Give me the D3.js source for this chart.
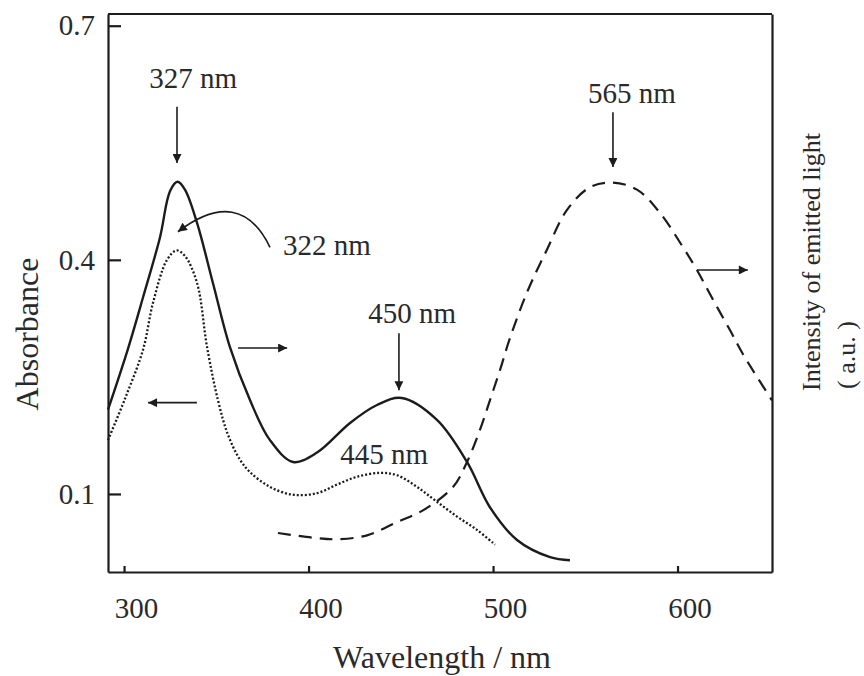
<!DOCTYPE html>
<html>
<head>
<meta charset="utf-8">
<script src="https://cdn.jsdelivr.net/npm/d3@7"></script>
<style>
  body { margin: 0; background: #fff; }
  text { font-family: "Liberation Serif", "DejaVu Serif", serif; fill: #2a2a2a; }
</style>
</head>
<body>
<div id="chart"></div>
<script>
// solid absorption spectrum
const solidNm  = [291.3, 302, 310.3, 319.5, 324.9, 329, 333, 339.6, 348.2, 357.4, 368.3, 379.1, 391.6, 404.6, 422.5, 437.1, 450.5, 469.6, 485.9, 498.3, 513, 530.9, 541.7];
const solidAbs = [0.208, 0.285, 0.352, 0.429, 0.488, 0.500, 0.490, 0.447, 0.370, 0.288, 0.220, 0.169, 0.141, 0.153, 0.191, 0.214, 0.223, 0.195, 0.141, 0.083, 0.041, 0.019, 0.015];

// dotted absorption spectrum
const dotNm  = [291.3, 300.5, 310.3, 315.7, 323.3, 328.5, 333, 339.6, 345, 350.9, 356.3, 362.8, 368.3, 379.1, 391.6, 404.6, 415.4, 426.3, 438.7, 448, 458.8, 469.6, 480.5, 491.3, 501.1];
const dotAbs = [0.169, 0.222, 0.285, 0.345, 0.400, 0.412, 0.405, 0.370, 0.288, 0.220, 0.176, 0.144, 0.128, 0.109, 0.099, 0.101, 0.112, 0.122, 0.127, 0.124, 0.109, 0.090, 0.071, 0.054, 0.035];

// dashed emission spectrum (a.u.)
const emNm  = [383.4, 402.4, 415.4, 431.7, 448, 462, 478.3, 485.9, 492.9, 498.3, 503.8, 509.2, 518.9, 529.2, 540.1, 552.5, 564.5, 578, 590.5, 603, 610.5, 619.2, 628.4, 635.5, 651.2];
const emInt = [0.050, 0.044, 0.042, 0.047, 0.064, 0.079, 0.109, 0.141, 0.182, 0.220, 0.259, 0.300, 0.361, 0.413, 0.464, 0.493, 0.499, 0.490, 0.460, 0.416, 0.387, 0.349, 0.310, 0.279, 0.220];

const xTicks = [300, 400, 500, 600];
const yTicks = [0.1, 0.4, 0.7];

// peak labels: text, text position, arrow start/end (nm, value)
const labelText = ['327 nm', '450 nm', '565 nm', '445 nm', '322 nm'];
const labelNm   = [337.4, 456.1, 575.3, 441.0, 410.0];
const labelVal  = [0.633, 0.332, 0.614, 0.152, 0.419];
const dropNm    = [328.7, 449.0, 565.0];
const dropFrom  = [0.596, 0.306, 0.589];
const dropTo    = [0.524, 0.233, 0.519];

// side arrows telling which axis a curve belongs to
const sideFrom = [[361.8, 0.287], [339.5, 0.217], [610.5, 0.387]];
const sideTo   = [[388.4, 0.287], [313.0, 0.217], [638.1, 0.387]];

// curved pointer for 322 nm
const curlPts = [[379.1, 0.416], [362.8, 0.496], [329.2, 0.436]];

const W = 864, H = 676;
const margin = { top: 14, right: 92, bottom: 104, left: 108 };
const width = W - margin.left - margin.right;
const height = H - margin.top - margin.bottom;
const ink = '#1c1c1c';

const svg = d3.select('#chart')
    .append('svg')
    .attr('width', W)
    .attr('height', H);

const defs = svg.append('defs');
defs.append('marker')
    .attr('id', 'head')
    .attr('viewBox', '0 0 10 10')
    .attr('refX', 10)
    .attr('refY', 5)
    .attr('markerWidth', 10)
    .attr('markerHeight', 9)
    .attr('markerUnits', 'userSpaceOnUse')
    .attr('orient', 'auto')
    .append('path')
    .attr('d', 'M0,0 L10,5 L0,10 Z')
    .attr('fill', ink);

const g = svg.append('g')
    .attr('transform', `translate(${margin.left}, ${margin.top})`);

const x = d3.scaleLinear().domain([291.3, 651.2]).range([0, width]);
const y = d3.scaleLinear().domain([0, 0.715]).range([height, 0]);
const yEm = d3.scaleLinear().domain([0, 0.715]).range([height, 0]);

// axes
g.append('g')
    .attr('transform', `translate(0, ${height})`)
    .style('font-size', '29px')
    .call(d3.axisBottom(x).tickValues(xTicks).tickSizeInner(-6).tickSizeOuter(0).tickPadding(25).tickFormat(d3.format('d')))
    .call(a => a.selectAll('text').attr('dx', 12));

g.append('g')
    .style('font-size', '29px')
    .call(d3.axisLeft(y).tickValues(yTicks).tickSizeInner(-13).tickSizeOuter(0).tickPadding(13).tickFormat(d3.format('.1f')));

g.append('g')
    .attr('transform', `translate(${width}, 0)`)
    .call(d3.axisRight(yEm).tickValues([]).tickSizeOuter(0));

g.append('line').attr('x1', 0).attr('x2', width).attr('y1', 0).attr('y2', 0);

g.selectAll('.domain, line').attr('stroke', ink).attr('stroke-width', 2.2);
g.selectAll('.tick text').attr('fill', '#2a2a2a');

// curves
const line = d3.line()
    .x(d => x(d[0]))
    .y(d => d[2](d[1]))
    .curve(d3.curveCatmullRom.alpha(0.5));

const solidData = solidNm.map((v, i) => [v, solidAbs[i], y]);
const dotData = dotNm.map((v, i) => [v, dotAbs[i], y]);
const emData = emNm.map((v, i) => [v, emInt[i], yEm]);

g.append('path')
    .datum(solidData)
    .attr('fill', 'none')
    .attr('stroke', ink)
    .attr('stroke-width', 2.4)
    .attr('d', line);

g.append('path')
    .datum(dotData)
    .attr('fill', 'none')
    .attr('stroke', ink)
    .attr('stroke-width', 2.3)
    .attr('stroke-dasharray', '2 2')
    .attr('d', line);

g.append('path')
    .datum(emData)
    .attr('fill', 'none')
    .attr('stroke', ink)
    .attr('stroke-width', 2.2)
    .attr('stroke-dasharray', '13 8')
    .attr('d', line);

// peak labels
g.selectAll('.peak')
    .data(labelText)
    .enter()
    .append('text')
    .attr('class', 'peak')
    .attr('x', (d, i) => x(labelNm[i]))
    .attr('y', (d, i) => y(labelVal[i]))
    .attr('dy', '0.35em')
    .attr('text-anchor', 'middle')
    .style('font-size', '29px')
    .text(d => d);

// vertical arrows to peaks
g.selectAll('.drop')
    .data(dropNm)
    .enter()
    .append('line')
    .attr('x1', d => x(d))
    .attr('x2', d => x(d))
    .attr('y1', (d, i) => y(dropFrom[i]))
    .attr('y2', (d, i) => y(dropTo[i]))
    .attr('stroke', ink)
    .attr('stroke-width', 1.6)
    .attr('marker-end', 'url(#head)');

// side arrows
g.selectAll('.side')
    .data(sideFrom)
    .enter()
    .append('line')
    .attr('x1', d => x(d[0]))
    .attr('y1', d => y(d[1]))
    .attr('x2', (d, i) => x(sideTo[i][0]))
    .attr('y2', (d, i) => y(sideTo[i][1]))
    .attr('stroke', ink)
    .attr('stroke-width', 1.6)
    .attr('marker-end', 'url(#head)');

// curved pointer from "322 nm"
const c = curlPts.map(p => [x(p[0]), y(p[1])]);
g.append('path')
    .attr('d', `M${c[0][0]},${c[0][1]} Q${c[1][0]},${c[1][1]} ${c[2][0]},${c[2][1]}`)
    .attr('fill', 'none')
    .attr('stroke', ink)
    .attr('stroke-width', 1.6)
    .attr('marker-end', 'url(#head)');

// axis titles
svg.append('text')
    .attr('x', margin.left + width / 2 + 2)
    .attr('y', 668)
    .attr('text-anchor', 'middle')
    .style('font-size', '32px')
    .text('Wavelength / nm');

svg.append('text')
    .attr('transform', 'translate(27, 334) rotate(-90)')
    .attr('dy', '0.35em')
    .attr('text-anchor', 'middle')
    .style('font-size', '32px')
    .text('Absorbance');

svg.append('text')
    .attr('transform', 'translate(811, 262) rotate(-90)')
    .attr('dy', '0.35em')
    .attr('text-anchor', 'middle')
    .style('font-size', '26px')
    .text('Intensity of emitted light');

svg.append('text')
    .attr('transform', 'translate(846, 355) rotate(-90)')
    .attr('dy', '0.35em')
    .attr('text-anchor', 'middle')
    .style('font-size', '26px')
    .text('( a.u. )');
</script>
</body>
</html>
